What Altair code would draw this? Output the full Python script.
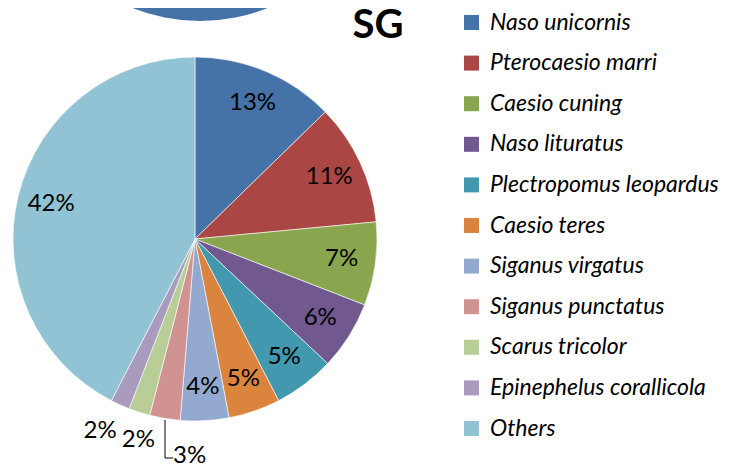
import math
import altair as alt
import pandas as pd

species = ["Naso unicornis", "Pterocaesio marri", "Caesio cuning", "Naso lituratus",
           "Plectropomus leopardus", "Caesio teres", "Siganus virgatus",
           "Siganus punctatus", "Scarus tricolor", "Epinephelus corallicola", "Others"]
shares = [12.7, 10.8, 7.4, 6.1, 5.4, 4.6, 4.3, 2.7, 1.9, 1.7, 42.4]
colors = ["#4572A7", "#AA4643", "#89A54E", "#71588F", "#4198AF", "#DB843D",
          "#93A9CF", "#D19392", "#B9CD96", "#A99BBD", "#92C3D4"]
title_text = "SG"

df = pd.DataFrame({"species": species, "share": shares, "order": list(range(len(species)))})

CX, CY, R = 187, 231, 182
FONT = "Lato"

theta_scale = alt.Scale(domain=[0, 100], range=[0, 2 * math.pi])

base = alt.Chart(df).transform_window(
    cum="sum(share)", sort=[alt.SortField("order")], frame=[None, 0]
).transform_calculate(
    start="datum.cum - datum.share",
    mid="datum.cum - datum.share / 2",
    label="round(datum.share) + '%'",
)

pie = base.mark_arc(outerRadius=R, stroke="white", strokeWidth=0.6).encode(
    theta=alt.Theta("start:Q", scale=theta_scale, stack=None),
    theta2="cum:Q",
    x=alt.value(CX), y=alt.value(CY),
    color=alt.Color("species:N", sort=species,
                    scale=alt.Scale(domain=species, range=colors),
                    legend=alt.Legend(title=None, orient="none", legendX=452, legendY=3,
                                      symbolType="square", symbolSize=225,
                                      symbolStrokeWidth=0, symbolOpacity=1,
                                      labelFont=FONT, labelFontSize=23,
                                      labelFontStyle="italic", labelColor="black",
                                      rowPadding=16.6, labelOffset=7, labelLimit=400)),
)

def label_layer(filt, radius, dx=0, dy=0):
    return base.transform_filter(filt).mark_text(
        font=FONT, fontSize=24, color="black", align="center", baseline="middle",
        radius=radius, dx=dx, dy=dy
    ).encode(
        theta=alt.Theta("mid:Q", scale=theta_scale, stack=None),
        x=alt.value(CX), y=alt.value(CY),
        text="label:N",
    )

inside = label_layer("datum.share >= 3.5", 148)
out_pink = label_layer("datum.species == 'Siganus punctatus'", 220, dx=31)
out_green = label_layer("datum.species == 'Scarus tricolor'", 211, dx=8)
out_lav = label_layer("datum.species == 'Epinephelus corallicola'", 211, dx=-8)

leader_v = alt.Chart(df.head(1)).mark_rule(color="black", strokeWidth=1).encode(
    x=alt.value(157), y=alt.value(412), y2=alt.value(450))
leader_h = alt.Chart(df.head(1)).mark_rule(color="black", strokeWidth=1).encode(
    x=alt.value(157), x2=alt.value(165), y=alt.value(450))

top_pie = alt.Chart(df.head(1)).mark_arc(outerRadius=R).encode(
    theta=alt.value(0), theta2=alt.value(2 * math.pi),
    x=alt.value(192), y=alt.value(-169), fill=alt.value(colors[0]))

title = alt.Chart(pd.DataFrame({"t": [title_text]})).mark_text(
    font=FONT, fontSize=40, fontWeight="bold", color="black",
    align="center", baseline="middle"
).encode(text="t:N", x=alt.value(370), y=alt.value(18))

chart = alt.layer(top_pie, pie, inside, out_pink, out_green, out_lav,
                  leader_v, leader_h, title).properties(
    width=730, height=457, padding=0, autosize="none"
).configure_view(stroke=None)

chart.save("out.html", embed_options={"renderer": "svg", "actions": False})
